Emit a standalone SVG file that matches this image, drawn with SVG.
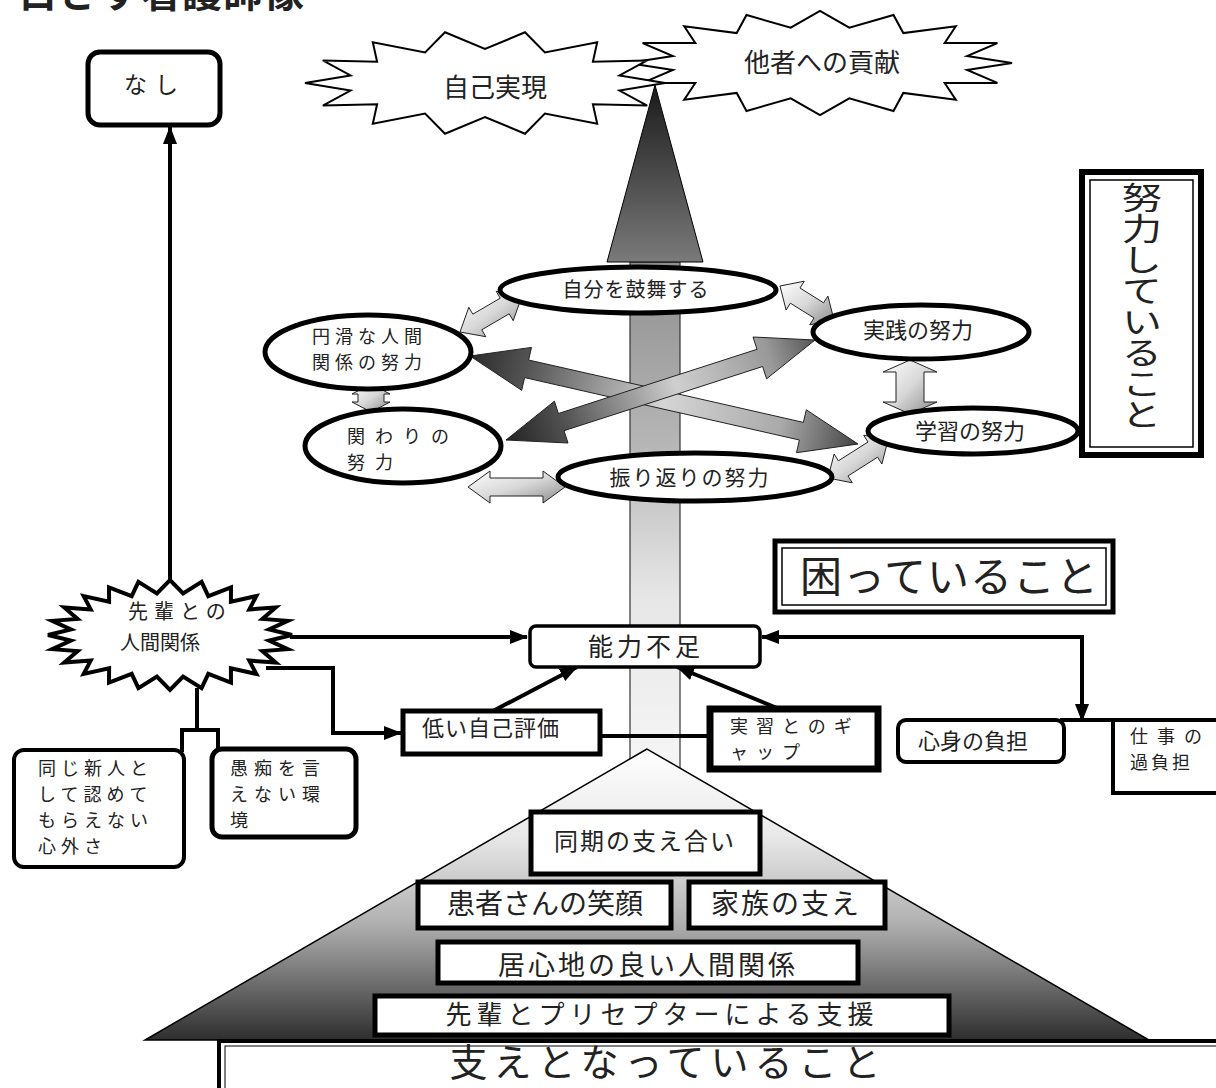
<svg xmlns="http://www.w3.org/2000/svg" width="1216" height="1088" viewBox="0 0 1216 1088">
<style>
.t{font-family:"Noto Sans CJK JP","Noto Sans CJK SC",sans-serif;fill:#222;}
.box{fill:#fff;stroke:#000;}
.conn{fill:none;stroke:#000;stroke-width:4;}
.ell{fill:#fff;stroke:#000;stroke-width:5;}
.arr{stroke:#222;stroke-width:1;stroke-linejoin:miter;}
</style>
<defs>
<marker id="ah" viewBox="0 0 18 14" markerUnits="userSpaceOnUse" markerWidth="18" markerHeight="14" refX="17" refY="7" orient="auto-start-reverse"><path d="M0 0 L18 7 L0 14 z" fill="#000"/></marker>
<linearGradient id="gBar" x1="0" y1="0" x2="0" y2="1"><stop offset="0" stop-color="#8f8f8f"/><stop offset="0.35" stop-color="#b5b5b5"/><stop offset="0.65" stop-color="#e6e6e6"/><stop offset="1" stop-color="#f6f6f6"/></linearGradient>
<linearGradient id="gDark" x1="0" y1="0" x2="0" y2="1"><stop offset="0" stop-color="#1a1a1a"/><stop offset="1" stop-color="#7a7a7a"/></linearGradient>
<linearGradient id="gPyr" gradientUnits="userSpaceOnUse" x1="0" y1="749" x2="0" y2="1040"><stop offset="0" stop-color="#fff"/><stop offset="0.3" stop-color="#e8e8e8"/><stop offset="0.6" stop-color="#b0b0b0"/><stop offset="1" stop-color="#2e2e2e"/></linearGradient>
<linearGradient id="gSm" x1="0" y1="0" x2="1" y2="1"><stop offset="0" stop-color="#fff"/><stop offset="0.5" stop-color="#d8d8d8"/><stop offset="1" stop-color="#8a8a8a"/></linearGradient>
<linearGradient id="gX1" gradientUnits="userSpaceOnUse" x1="470" y1="356" x2="858" y2="444"><stop offset="0" stop-color="#2a2a2a"/><stop offset="0.15" stop-color="#555"/><stop offset="0.5" stop-color="#d5d5d5"/><stop offset="0.8" stop-color="#aaa"/><stop offset="1" stop-color="#444"/></linearGradient>
<linearGradient id="gX2" gradientUnits="userSpaceOnUse" x1="506" y1="440" x2="815" y2="340"><stop offset="0" stop-color="#222"/><stop offset="0.2" stop-color="#555"/><stop offset="0.55" stop-color="#cfcfcf"/><stop offset="0.85" stop-color="#999"/><stop offset="1" stop-color="#555"/></linearGradient>
</defs>
<rect width="1216" height="1088" fill="#fff"/>

<text id="title" class="t" x="18" y="7" font-size="40" font-weight="bold" letter-spacing="1" fill="#000">目ざす看護師像</text>

<g id="n-tasha">
<polygon class="box" stroke-width="2" points="1012,63 967.1,70 997.4,82.9 944.7,83 955.8,99.8 903.3,92.9 893.5,111 849.3,98.3 820,115 790.7,98.3 746.5,111 736.7,92.9 684.2,99.8 695.3,83 642.6,82.9 672.9,70 628,63 672.9,56 642.6,43.1 695.3,43 684.2,26.2 736.7,33.1 746.5,15 790.7,27.7 820,11 849.3,27.7 893.5,15 903.3,33.1 955.8,26.2 944.7,43 997.4,43.1 967.1,56"/>
<text class="t" x="822" y="72" font-size="26" text-anchor="middle">他者への貢献</text>
</g>
<g id="n-jiko">
<polygon class="box" stroke-width="2" points="665,83 619.5,90.6 647.2,105.6 592.9,104.2 597.2,123.7 544.9,113.6 525,133.7 485,117 445,133.7 425.1,113.6 372.8,123.7 377.1,104.2 322.8,105.6 350.5,90.6 305,83 350.5,75.4 322.8,60.4 377.1,61.8 372.8,42.3 425.1,52.4 445,32.3 485,49 525,32.3 544.9,52.4 597.2,42.3 592.9,61.8 647.2,60.4 619.5,75.4"/>
<text class="t" x="495" y="97" font-size="26" text-anchor="middle">自己実現</text>
</g>

<g id="bar">
<rect x="630" y="262" width="50" height="510" fill="url(#gBar)" stroke="#333" stroke-width="1.2"/>
<polygon points="655,85 703,262 607,262" fill="url(#gDark)" stroke="#000" stroke-width="1"/>
</g>

<g id="n-nashi">
<rect class="box" x="88" y="52" width="132" height="73" rx="12" stroke-width="5"/>
<text class="t" x="155" y="93" font-size="23" text-anchor="middle" letter-spacing="8">なし</text>
</g>

<g id="connectors">
<polygon class="arr" fill="url(#gX1)" points="470,356 521.7,390.3 524.6,377.6 799.4,440 796.5,452.7 858,444 806.3,409.8 803.4,422.4 528.6,360 531.5,347.4"/>
<polygon class="arr" fill="url(#gX2)" points="506,440 568,443 564,430.7 762.6,366.5 766.6,378.8 815,340 753,337 757,349.3 558.4,413.5 554.4,401.2"/>
<polygon class="arr" fill="url(#gSm)" points="460,332 485.8,336.7 481.8,329.8 509.2,313.8 513.2,320.7 522,296 496.2,291.3 500.2,298.2 472.8,314.2 468.8,307.3"/>
<polygon class="arr" fill="url(#gSm)" points="780,286 786.1,310 790.4,303.2 814,318 809.7,324.8 834,320 827.9,296 823.6,302.8 800,288 804.3,281.2"/>
<polygon class="arr" fill="url(#gSm)" points="371,384 390,394 384,394 384,402 390,402 371,412 352,402 358,402 358,394 352,394"/>
<polygon class="arr" fill="url(#gSm)" points="910,360 937,372 924,372 924,402 937,402 910,414 883,402 896,402 896,372 883,372"/>
<polygon class="arr" fill="url(#gSm)" points="468,487 490,471 490,478 543,478 543,471 565,487 543,503 543,496 490,496 490,503"/>
<polygon class="arr" fill="url(#gSm)" points="828,478 852.3,482.8 848,476 877.6,457.2 881.9,464 888,440 863.7,435.2 868,442 838.4,460.8 834.1,454"/>

<path class="conn" d="M170 590 V127" marker-end="url(#ah)"/>
<path class="conn" d="M290 637 H527" marker-end="url(#ah)"/>
<path class="conn" d="M266 668 H333 V733 H401" marker-end="url(#ah)"/>
<path class="conn" stroke-width="5" d="M197 688 V730 M180 730 H220 M182 728 V752 M218 728 V750"/>
<path class="conn" stroke-width="5" d="M493 711 L577 667" marker-end="url(#ah)"/>
<path class="conn" stroke-width="5" d="M600 736 H710"/>
<path class="conn" stroke-width="5" d="M777 708 L677 667" marker-end="url(#ah)"/>
<path class="conn" d="M762 637 H1082 V721" marker-start="url(#ah)" marker-end="url(#ah)"/>
<path class="conn" d="M1060 720 H1115"/>
</g>

<g id="n-kobu"><ellipse class="ell" cx="638" cy="290" rx="138" ry="23"/><text class="t" x="636" y="297" font-size="20" text-anchor="middle" letter-spacing="1">自分を鼓舞する</text></g>
<g id="n-enkatsu"><ellipse class="ell" cx="368" cy="352" rx="103" ry="37"/>
<text class="t" font-size="18" letter-spacing="5"><tspan x="312" y="343">円滑な人間</tspan><tspan x="312" y="369">関係の努力</tspan></text></g>
<g id="n-kakawari"><ellipse class="ell" cx="403" cy="446" rx="98" ry="37"/>
<text class="t" font-size="18" letter-spacing="10"><tspan x="347" y="443">関わりの</tspan><tspan x="347" y="469">努力</tspan></text></g>
<g id="n-furikaeri"><ellipse class="ell" cx="695" cy="477" rx="137" ry="24"/><text class="t" x="690" y="485" font-size="21" text-anchor="middle" letter-spacing="2">振り返りの努力</text></g>
<g id="n-jissen"><ellipse class="ell" cx="921" cy="332" rx="108" ry="27"/><text class="t" x="918" y="338" font-size="22" text-anchor="middle">実践の努力</text></g>
<g id="n-gakushu"><ellipse class="ell" cx="973" cy="431" rx="105" ry="23"/><text class="t" x="970" y="439" font-size="22" text-anchor="middle">学習の努力</text></g>

<g id="n-doryoku">
<rect class="box" x="1082" y="172" width="119" height="283" stroke-width="6"/>
<rect x="1090" y="180" width="103" height="267" fill="none" stroke="#000" stroke-width="1.5"/>
<text class="t" x="1142" y="182" font-size="31" style="writing-mode:vertical-rl" transform="translate(1142 0) scale(1.3 1) translate(-1142 0)" fill="#111">努力していること</text>
</g>

<g id="n-komatte">
<rect class="box" x="775" y="541" width="338" height="71" stroke-width="5"/>
<rect x="782" y="548" width="324" height="57" fill="none" stroke="#000" stroke-width="1.5"/>
<text class="t" x="800" y="592" font-size="42" letter-spacing="1" fill="#111">困っていること</text>
</g>

<g id="n-senpai">
<polygon class="box" stroke-width="4" points="292,635 269.1,640.5 287.8,649.2 262.4,651.1 275.7,662.5 249.3,660.6 256.3,673.9 230.9,668.3 231,682.6 208.3,673.8 201.6,688.1 183.1,676.6 170,690 156.9,676.6 138.4,688.1 131.7,673.8 109,682.6 109.1,668.3 83.7,673.9 90.7,660.6 64.3,662.5 77.6,651.1 52.2,649.2 70.9,640.5 48,635 70.9,629.5 52.2,620.8 77.6,618.9 64.3,607.5 90.7,609.4 83.7,596.1 109.1,601.7 109,587.4 131.7,596.2 138.4,581.9 156.9,593.4 170,580 183.1,593.4 201.6,581.9 208.3,596.2 231,587.4 230.9,601.7 256.3,596.1 249.3,609.4 275.7,607.5 262.4,618.9 287.8,620.8 269.1,629.5"/>
<text class="t" font-size="20"><tspan x="128" y="619" letter-spacing="6">先輩との</tspan><tspan x="120" y="650">人間関係</tspan></text>
</g>

<g id="n-noryoku"><rect class="box" x="530" y="626" width="230" height="41" rx="6" stroke-width="3.5"/><text class="t" x="646" y="656" font-size="25" text-anchor="middle" letter-spacing="4">能力不足</text></g>

<g id="n-onaji"><rect class="box" x="14" y="750" width="170" height="117" rx="10" stroke-width="4"/>
<text class="t" font-size="18" letter-spacing="5"><tspan x="38" y="775">同じ新人と</tspan><tspan x="38" y="801">して認めて</tspan><tspan x="38" y="827">もらえない</tspan><tspan x="38" y="853">心外さ</tspan></text></g>
<g id="n-guchi"><rect class="box" x="212" y="749" width="144" height="88" rx="10" stroke-width="5"/>
<text class="t" font-size="18" letter-spacing="6"><tspan x="230" y="775">愚痴を言</tspan><tspan x="230" y="801">えない環</tspan><tspan x="230" y="827">境</tspan></text></g>

<g id="n-hikui"><rect class="box" x="403" y="711" width="197" height="43" stroke-width="5"/><text class="t" x="422" y="736" font-size="22" letter-spacing="1">低い自己評価</text></g>
<g id="n-gap"><rect class="box" x="710" y="709" width="168" height="60" stroke-width="7"/>
<text class="t" font-size="18" letter-spacing="8"><tspan x="730" y="733">実習とのギ</tspan><tspan x="730" y="759">ャップ</tspan></text></g>

<g id="n-shinshin"><rect class="box" x="898" y="720" width="166" height="42" rx="8" stroke-width="4"/><text class="t" x="918" y="749" font-size="22">心身の負担</text></g>
<g id="n-shigoto"><rect class="box" x="1113" y="720" width="130" height="73" stroke-width="4"/>
<text class="t" font-size="18"><tspan x="1130" y="743" letter-spacing="9">仕事の</tspan><tspan x="1130" y="769" letter-spacing="3">過負担</tspan></text></g>

<g id="n-pyramid">
<polygon points="647,749 145,1040 1149,1040" fill="url(#gPyr)" stroke="#000" stroke-width="1.5"/>
</g>
<g id="n-douki"><rect class="box" x="531" y="812" width="229" height="62" stroke-width="5"/><text class="t" x="645" y="850" font-size="24" text-anchor="middle" letter-spacing="2">同期の支え合い</text></g>
<g id="n-kanja"><rect class="box" x="418" y="882" width="253" height="46" stroke-width="5"/><text class="t" x="545" y="914" font-size="28" text-anchor="middle">患者さんの笑顔</text></g>
<g id="n-kazoku"><rect class="box" x="689" y="882" width="196" height="46" stroke-width="5"/><text class="t" x="786" y="914" font-size="28" text-anchor="middle" letter-spacing="2">家族の支え</text></g>
<g id="n-igokochi"><rect class="box" x="438" y="942" width="420" height="41" stroke-width="5"/><text class="t" x="648" y="975" font-size="27" text-anchor="middle" letter-spacing="3">居心地の良い人間関係</text></g>
<g id="n-shien"><rect class="box" x="375" y="996" width="574" height="39" stroke-width="5"/><text class="t" x="662" y="1024" font-size="26" text-anchor="middle" letter-spacing="5">先輩とプリセプターによる支援</text></g>
<g id="n-sasae"><rect class="box" x="219" y="1041" width="1010" height="52" stroke-width="4"/>
<rect x="225" y="1046" width="1000" height="45" fill="none" stroke="#000" stroke-width="1"/>
<text class="t" x="668" y="1076" font-size="38" text-anchor="middle" letter-spacing="6" fill="#111">支えとなっていること</text></g>
</svg>
